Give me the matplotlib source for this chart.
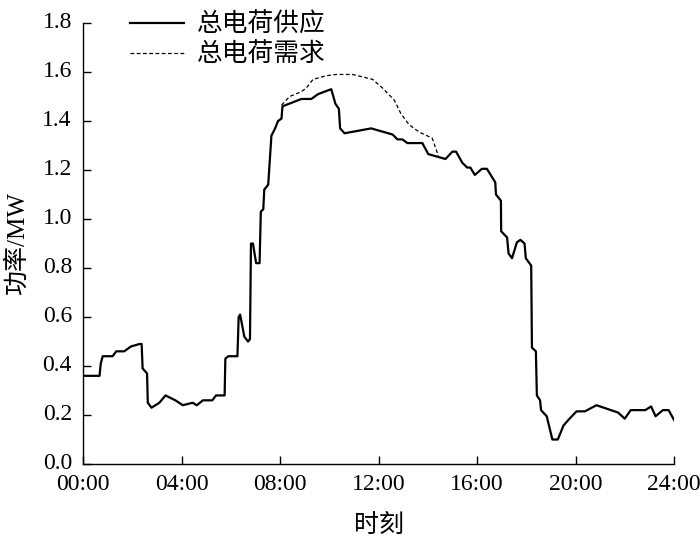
import matplotlib
matplotlib.use("Agg")
import matplotlib.pyplot as plt
from matplotlib.transforms import ScaledTranslation

plt.rcParams['font.family'] = ['Liberation Serif', 'Noto Sans CJK SC', 'DejaVu Sans']
plt.rcParams['axes.unicode_minus'] = False

# Supply curve (hours, MW)
supply_t = [0.0, 0.67, 0.72, 0.80, 1.2, 1.35, 1.67, 1.95, 2.3, 2.38, 2.42, 2.6, 2.63, 2.78,
            3.1, 3.35, 3.75, 4.05, 4.45, 4.62, 4.87, 5.25, 5.4, 5.75, 5.78, 5.9, 6.27, 6.32,
            6.38, 6.55, 6.7, 6.78, 6.82, 6.9, 7.03, 7.17, 7.22, 7.32, 7.36, 7.52, 7.65, 7.8,
            7.92, 8.06, 8.1, 8.87, 9.27, 9.55, 10.08, 10.25, 10.39, 10.44, 10.62, 11.7, 12.57,
            12.77, 12.97, 13.17, 13.78, 14.02, 14.72, 15.0, 15.15, 15.4, 15.6, 15.73, 15.91,
            16.2, 16.4, 16.74, 16.77, 16.97, 16.98, 17.22, 17.28, 17.42, 17.62, 17.76, 17.93,
            17.98, 18.2, 18.23, 18.39, 18.43, 18.56, 18.6, 18.83, 19.06, 19.28, 19.51, 19.71,
            20.04, 20.38, 20.85, 21.73, 22.0, 22.24, 22.83, 23.07, 23.25, 23.55, 23.78, 24.0]
supply_v = [0.36, 0.36, 0.41, 0.44, 0.44, 0.46, 0.46, 0.48, 0.49, 0.49, 0.39, 0.37, 0.25, 0.23,
            0.25, 0.28, 0.26, 0.24, 0.25, 0.24, 0.26, 0.26, 0.28, 0.28, 0.43, 0.44, 0.44, 0.60,
            0.61, 0.52, 0.50, 0.51, 0.90, 0.90, 0.82, 0.82, 1.03, 1.04, 1.12, 1.14, 1.34, 1.37,
            1.40, 1.41, 1.46, 1.49, 1.49, 1.51, 1.53, 1.47, 1.45, 1.37, 1.35, 1.37, 1.345,
            1.325, 1.325, 1.31, 1.31, 1.265, 1.245, 1.275, 1.275, 1.23, 1.21, 1.21, 1.18,
            1.205, 1.205, 1.15, 1.10, 1.075, 0.95, 0.925, 0.86, 0.84, 0.905, 0.915, 0.90,
            0.84, 0.81, 0.475, 0.46, 0.28, 0.26, 0.22, 0.195, 0.10, 0.10, 0.157, 0.18,
            0.215, 0.215, 0.24, 0.21, 0.185, 0.22, 0.22, 0.235, 0.195, 0.22, 0.22, 0.18]

# Demand curve (only differs from supply between ~8h and ~14.5h)
demand_t = [8.06, 8.39, 8.87, 9.07, 9.34, 9.88, 10.28, 10.95, 11.76, 12.16, 12.64, 12.91,
            13.24, 13.65, 14.18, 14.43]
demand_v = [1.465, 1.50, 1.52, 1.535, 1.57, 1.585, 1.59, 1.59, 1.57, 1.535, 1.485, 1.43,
            1.385, 1.355, 1.33, 1.258]

xticks = [0, 4, 8, 12, 16, 20, 24]
xticklabels = ['00:00', '04:00', '08:00', '12:00', '16:00', '20:00', '24:00']
yticks = [0.0, 0.2, 0.4, 0.6, 0.8, 1.0, 1.2, 1.4, 1.6, 1.8]

fig = plt.figure(figsize=(7.0, 5.38), dpi=100)
ax = fig.add_axes([0.1186, 0.1375, 0.8443, 0.8197])

l1, = ax.plot(supply_t, supply_v, color='black', linewidth=1.6, label='总电荷供应')
l2, = ax.plot(demand_t, demand_v, color='black', linewidth=0.9, linestyle=(0, (3, 2)),
              label='总电荷需求')

ax.set_xlim(0, 24)
ax.set_ylim(0, 1.8)
ax.set_xticks(xticks)
ax.set_xticklabels(xticklabels)
ax.set_yticks(yticks)
ax.set_yticklabels([f'{v:.1f}' for v in yticks])
ax.spines['top'].set_visible(False)
ax.spines['right'].set_visible(False)
for s in ['left', 'bottom']:
    ax.spines[s].set_linewidth(1.0)
ax.tick_params(direction='in', length=6, width=1.0, labelsize=17, pad=7)
ax.tick_params(axis='y', pad=8)

# nudge y tick labels slightly upward like the reference
off = ScaledTranslation(0, 3 / 100, fig.dpi_scale_trans)
for lab in ax.get_yticklabels():
    lab.set_transform(lab.get_transform() + off)

ax.set_xlabel('时刻', fontsize=18, labelpad=14)
ax.set_ylabel('功率/MW', fontsize=18, labelpad=10)

fig.legend(handles=[l1, l2], loc='upper left', bbox_to_anchor=(0.16, 1.01),
           frameon=False, fontsize=18.5, handlelength=2.1, handletextpad=0.5,
           labelspacing=0.25, borderpad=0.2)

fig.savefig('out.png', dpi=100)
